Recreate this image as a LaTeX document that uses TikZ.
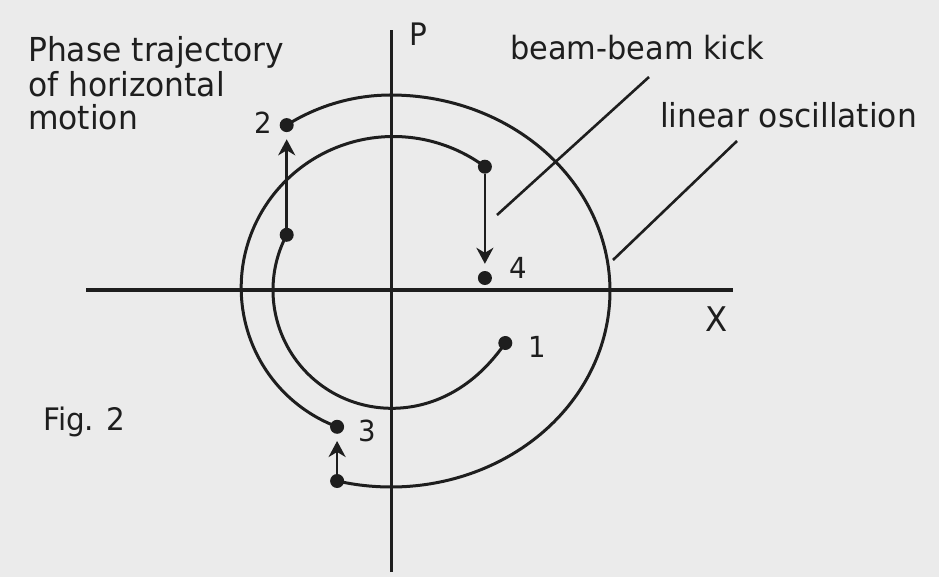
\documentclass[tikz,border=0pt]{standalone}
\usepackage{fontspec}
\setmainfont[FakeStretch=0.95]{DejaVu Sans}
\usetikzlibrary{arrows.meta}
\definecolor{inkc}{HTML}{1E1E1E}
\definecolor{paper}{HTML}{EBEBEB}
\begin{document}
\begin{tikzpicture}[x=1pt,y=-1pt,
  ink/.style={draw=inkc, line width=3pt},
  axisline/.style={draw=inkc, line width=3.4pt},
  dot/.style={circle, fill=inkc, inner sep=0pt, minimum size=14pt},
  kick/.style={draw=inkc, line width=2.6pt, -{Stealth[length=16pt,width=17pt,inset=5pt]}, shorten >=7pt},
  lead/.style={draw=inkc, line width=2.6pt},
  lbl/.style={text=inkc, inner sep=0pt, font=\fontsize{33}{36}\selectfont},
  num/.style={text=inkc, inner sep=0pt, font=\fontsize{29}{30}\selectfont}
]
\fill[paper] (0,0) rectangle (939,577);
\useasboundingbox (0,0) rectangle (939,577);

% axes
\coordinate (xl) at (86,290);
\coordinate (xr) at (733,290);
\coordinate (pb) at (391.5,572);
\coordinate (pt) at (391.5,30);
\draw[axisline] (xl) -- (xr);
\draw[axisline] (pb) -- (pt);
\node[lbl, font=\fontsize{34}{36}\selectfont] (xlab) at (717,319) {X};
\node[lbl, font=\fontsize{31}{34}\selectfont] (plab) at (418,34) {P};

% inner spiral: from 1 to base of kick 2
\draw[ink] plot[domain=-24.9:-207.9, samples=140, variable=\t]
  ({391+(118+8*exp(-((-24.9)-(\t))/20))*cos(\t)}, {290-(118+8*exp(-((-24.9)-(\t))/20))*sin(\t)});

% outer curve: from 2 over the top, right, bottom to base of kick 3
\draw[ink] plot[domain=122.15:90, samples=40, variable=\t]
  ({391+196*cos(\t)}, {291-196*sin(\t)})
  -- plot[domain=90:-104.25, samples=160, variable=\t]
  ({391+219*cos(\t)}, {291-196*sin(\t)});

% middle curve: from 3 round the left and top to top of kick 4
\draw[ink] plot[domain=-111.5:-307.3, samples=160, variable=\t]
  ({391+(147+8*((-111.5)-(\t))/195.8)*cos(\t)}, {290-(147+8*((-111.5)-(\t))/195.8)*sin(\t)});

% points
\node[dot] (p1) at (505.3,343) {};
\node[dot] (b2) at (286.7,234.8) {};
\node[dot] (p2) at (286.7,125.1) {};
\node[dot] (b3) at (337.1,481) {};
\node[dot] (p3) at (337.1,426.8) {};
\node[dot] (t4) at (484.9,166.7) {};
\node[dot] (p4) at (484.9,278) {};

% kicks
\draw[kick] (b2) -- (p2);
\draw[kick] (b3) -- (p3);
\draw[kick] (t4) -- (p4);

% point numbers
\node[num] (n1) at (537,347) {1};
\node[num] (n2) at (263,123) {2};
\node[num] (n3) at (367,431) {3};
\node[num] (n4) at (518,268) {4};

% labels
\node[lbl, anchor=base west] (t1) at (28,62) {Phase trajectory};
\node[lbl, anchor=base west] (t2) at (28,97) {of horizontal};
\node[lbl, anchor=base west] (t3) at (28,130) {motion};
\node[lbl, font=\fontsize{32}{36}\selectfont, anchor=base west] (bb) at (510,60) {beam-beam kick};
\node[lbl, anchor=base west] (lo) at (660,128) {linear oscillation};
\node[lbl, font=\fontsize{31}{34}\selectfont, anchor=base west] (fig) at (43,430) {Fig. 2};

% leader lines
\coordinate (bbs) at (649,77);
\coordinate (bbe) at (497,215);
\coordinate (los) at (737,141);
\coordinate (loe) at (613,260);
\draw[lead] (bbs) -- (bbe);
\draw[lead] (los) -- (loe);
\end{tikzpicture}
\end{document}
